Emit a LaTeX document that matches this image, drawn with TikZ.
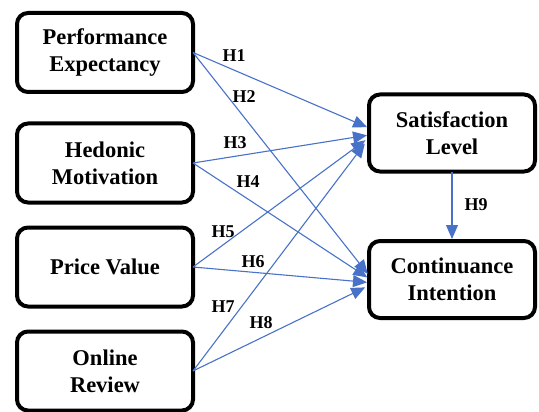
\documentclass[tikz,border=0pt]{standalone}
\usepackage{fontspec}
\setmainfont{Liberation Serif}
\usetikzlibrary{arrows.meta,calc}
\definecolor{lnblue}{RGB}{72,114,200}
\begin{document}
\begin{tikzpicture}[x=1pt,y=-1pt,
  box/.style={draw=black,line width=4pt,rounded corners=11pt,outer sep=0pt,
    align=center,font=\fontsize{22.5}{27}\selectfont\bfseries,inner sep=0pt},
  lbox/.style={box,minimum width=176pt,minimum height=79pt},
  rbox/.style={box,minimum width=166pt,minimum height=77pt},
  conn/.style={draw=lnblue,line width=1.1pt,-{Triangle[length=14pt,width=12pt]},shorten >=2pt},
  hlab/.style={font=\fontsize{18}{20}\selectfont\bfseries,inner sep=0pt}]
\useasboundingbox (0,0) rectangle (539,412);
\node[lbox] (pe) at (105,52.5) {Performance\\Expectancy};
\node[lbox] (hm) at (105,163) {Hedonic\\Motivation};
\node[lbox] (pv) at (105,267) {Price Value};
\node[lbox] (or) at (105,371) {Online\\Review};
\node[rbox] (sl) at (452,133) {Satisfaction\\Level};
\node[rbox] (ci) at (452,279.5) {Continuance\\Intention};
\coordinate (s1) at ($(sl.west)+(0,-5)$);
\coordinate (s3) at ($(sl.west)+(0,2)$);
\coordinate (s5) at ($(sl.west)+(-2,6)$);
\coordinate (s7) at ($(sl.west)+(-3,9)$);
\coordinate (c2) at ($(ci.west)+(0,-4)$);
\coordinate (c4) at ($(ci.west)+(0,-1)$);
\coordinate (c6) at ($(ci.west)+(0,3)$);
\coordinate (c8) at ($(ci.west)+(-2,7)$);
\draw[conn] (pe.east) -- (s1);
\draw[conn] (pe.east) -- (c2);
\draw[conn] (hm.east) -- (s3);
\draw[conn] (hm.east) -- (c4);
\draw[conn] (pv.east) -- (s5);
\draw[conn] (pv.east) -- (c6);
\draw[conn] (or.east) -- (s7);
\draw[conn] (or.east) -- (c8);
\draw[conn] (sl.south) -- (ci.north);
\node[hlab] (h1) at (234,56) {H1};
\node[hlab] (h2) at (244,97) {H2};
\node[hlab] (h3) at (235,143) {H3};
\node[hlab] (h4) at (248,182) {H4};
\node[hlab] (h5) at (223,232) {H5};
\node[hlab] (h6) at (253,262) {H6};
\node[hlab] (h7) at (223,307) {H7};
\node[hlab] (h8) at (261,323) {H8};
\node[hlab] (h9) at (476,205) {H9};
\end{tikzpicture}
\end{document}
